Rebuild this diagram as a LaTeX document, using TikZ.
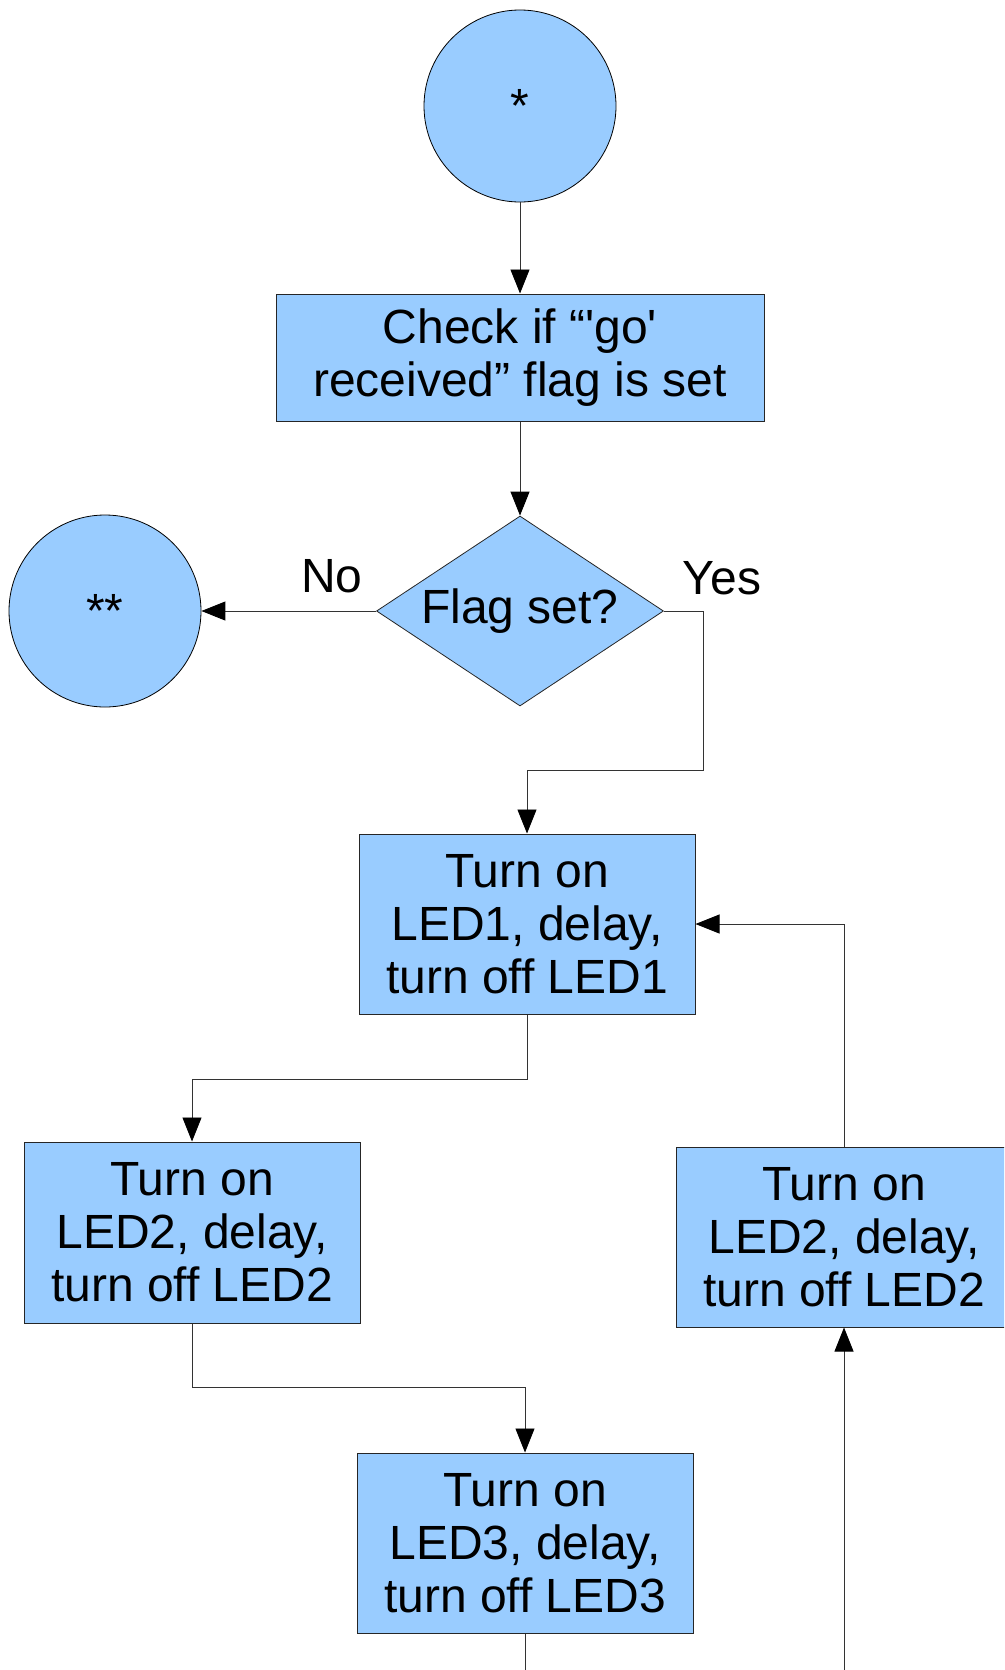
\documentclass[tikz,border=0pt]{standalone}
\usepackage{fontspec}
\newfontfamily\arialfont{Liberation Sans}
\usetikzlibrary{shapes.geometric,arrows.meta}
\definecolor{boxblue}{HTML}{99CCFF}
\begin{document}
\begin{tikzpicture}[x=1pt,y=-1pt,
  every node/.style={font=\arialfont\fontsize{48}{53}\selectfont},
  box/.style={draw=black!85, fill=boxblue, line width=1pt, align=center, inner sep=0pt},
  circ/.style={circle, draw=black, fill=boxblue, line width=0.8pt, minimum size=192pt, inner sep=0pt},
  decision/.style={diamond, draw=black!85, fill=boxblue, line width=0.8pt, minimum width=287pt, minimum height=190pt, inner sep=0pt},
  conn/.style={draw=black!80, line width=0.9pt, -{Triangle[length=24pt,width=19pt,color=black,fill=black]}},
  plain/.style={draw=black!80, line width=0.9pt}
]
\useasboundingbox (0,0) rectangle (1004,1670);
\clip (0,0) rectangle (1004,1670);

\node[circ] (start) at (520,106) {*};
\node[box, minimum width=488pt, minimum height=127pt] (check) at (520,357.5) {Check if “'go'\\received” flag is set};
\node[decision] (dec) at (520,611) {\makebox[0pt]{Flag set?}};
\node[circ] (stop) at (105,611) {**};
\node (no) at (332,576) {No};
\node (yes) at (722,578) {Yes};

\node[box, minimum width=336pt, minimum height=180pt] (led1) at (527,924) {Turn on\\LED1, delay,\\turn off LED1};
\node[box, minimum width=336pt, minimum height=181pt] (led2) at (192,1232.5) {Turn on\\LED2, delay,\\turn off LED2};
\node[box, minimum width=336pt, minimum height=180pt] (led3) at (525,1543) {Turn on\\LED3, delay,\\turn off LED3};
\node[box, minimum width=336pt, minimum height=180pt] (right) at (844,1237) {Turn on\\LED2, delay,\\turn off LED2};

\coordinate (y1) at (703,770);
\coordinate (j1) at (300,1079);
\coordinate (j2) at (400,1387);
\coordinate (e1) at (525,1680);
\coordinate (e2) at (844,1680);

\draw[conn] (start) -- (check);
\draw[conn] (check) -- (dec);
\draw[conn] (dec.west) -- (stop.east);
\draw[conn] (dec.east) -| (y1) -| (led1.north);
\draw[conn] (led1.south) |- (j1) -| (led2.north);
\draw[conn] (led2.south) |- (j2) -| (led3.north);
\draw[plain] (led3.south) -- (e1);
\draw[conn] (e2) -- (right.south);
\draw[conn] (right.north) |- (led1.east);
\end{tikzpicture}
\end{document}
